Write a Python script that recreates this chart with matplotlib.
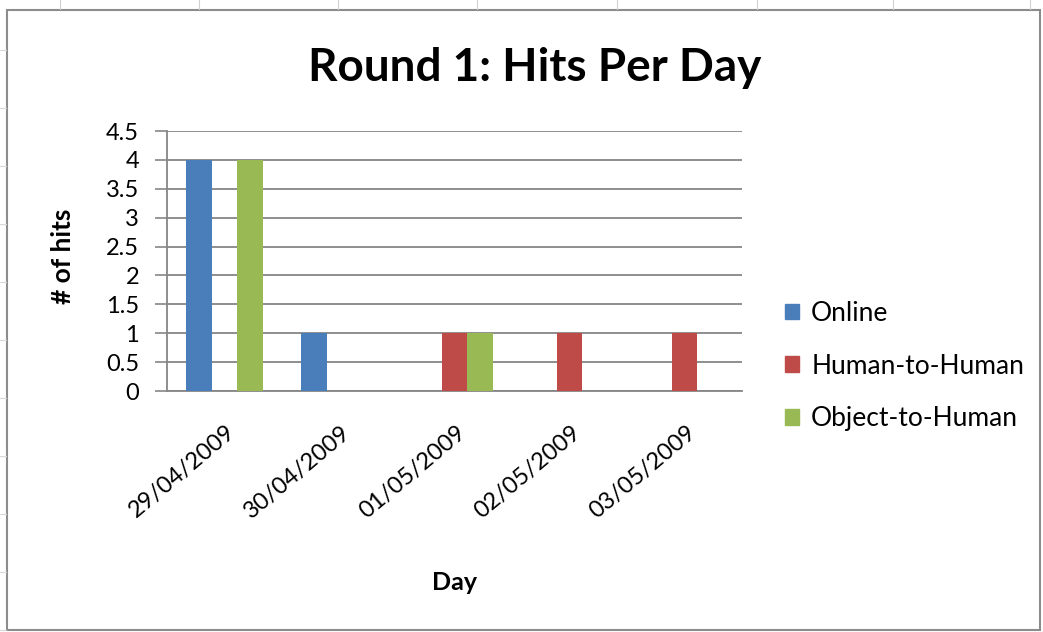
import numpy as np
import matplotlib.pyplot as plt
from matplotlib.patches import Rectangle
from matplotlib.lines import Line2D
from matplotlib.transforms import ScaledTranslation

plt.rcParams['font.family'] = ['Lato', 'DejaVu Sans']

# data
days = ['29/04/2009', '30/04/2009', '01/05/2009', '02/05/2009', '03/05/2009']
online = [4, 1, 0, 0, 0]
human_to_human = [0, 0, 1, 1, 1]
object_to_human = [4, 0, 1, 0, 0]
series_names = ['Online', 'Human-to-Human', 'Object-to-Human']
colors = ['#4a7ebb', '#be4b48', '#98b954']
yticks = [0, 0.5, 1, 1.5, 2, 2.5, 3, 3.5, 4, 4.5]

W, H = 1043, 632
fig = plt.figure(figsize=(W / 100, H / 100), dpi=100)
fig.patch.set_facecolor('white')

# chart border + spreadsheet grid bits
fig.add_artist(Rectangle((7 / W, 2 / H), 1033 / W, 620 / H, transform=fig.transFigure,
                         fill=False, edgecolor='#8c8c8c', lw=1.5))
for xp in [60, 199, 338, 477, 617, 757, 893, 1030]:
    fig.add_artist(Line2D([xp / W, xp / W], [1 - 9 / H, 1], transform=fig.transFigure,
                          color='#d0d0d0', lw=0.8))
for yp in range(50, 632, 58):
    fig.add_artist(Line2D([0, 6 / W], [1 - yp / H, 1 - yp / H], transform=fig.transFigure,
                          color='#d8d8d8', lw=0.8))

ax = fig.add_axes([167 / W, 1 - 391 / H, (742 - 167) / W, (391 - 131) / H])

x = np.arange(len(days))
bw = 1 / 4.5
for i, (vals, name, c) in enumerate(zip([online, human_to_human, object_to_human], series_names, colors)):
    ax.bar(x + (i - 1) * bw, vals, bw, color=c, label=name, zorder=3)

ax.set_xlim(-0.5, len(days) - 0.5)
ax.set_ylim(0, 4.5)
ax.set_yticks(yticks)
ax.set_yticklabels([f'{v:g}' for v in yticks], fontsize=17)
ax.yaxis.grid(True, color='#868686', lw=1.3, zorder=0)
ax.tick_params(axis='y', length=9, width=1.2, color='#868686', pad=11)
ax.tick_params(axis='x', length=0, pad=22)
ax.set_xticks(x)
ax.set_xticklabels(days, rotation=40, ha='right', va='top', rotation_mode='anchor', fontsize=17)
for lbl in ax.get_xticklabels():
    lbl.set_transform(lbl.get_transform() + ScaledTranslation(1 / 72, 0, fig.dpi_scale_trans))
for s in ['top', 'right']:
    ax.spines[s].set_visible(False)
ax.spines['left'].set_color('#868686')
ax.spines['left'].set_linewidth(1.3)
ax.spines['bottom'].set_color('#868686')
ax.spines['bottom'].set_linewidth(1.3)

fig.text(535 / W, 1 - 68 / H, 'Round 1: Hits Per Day', ha='center', va='center',
         fontsize=33, fontweight='bold')
fig.text(63 / W, 1 - 256 / H, '# of hits', ha='center', va='center', rotation=90,
         fontsize=19, fontweight='bold')
fig.text(455 / W, 1 - 583 / H, 'Day', ha='center', va='center', fontsize=18, fontweight='bold')

handles = [Rectangle((0, 0), 1, 1, color=c) for c in colors]
fig.legend(handles, series_names, loc='center left', bbox_to_anchor=(761 / W, 1 - 366 / H),
           frameon=False, fontsize=19, handlelength=0.55, handleheight=0.55, handletextpad=0.45,
           labelspacing=1.05)

fig.savefig('out.png', dpi=100)
